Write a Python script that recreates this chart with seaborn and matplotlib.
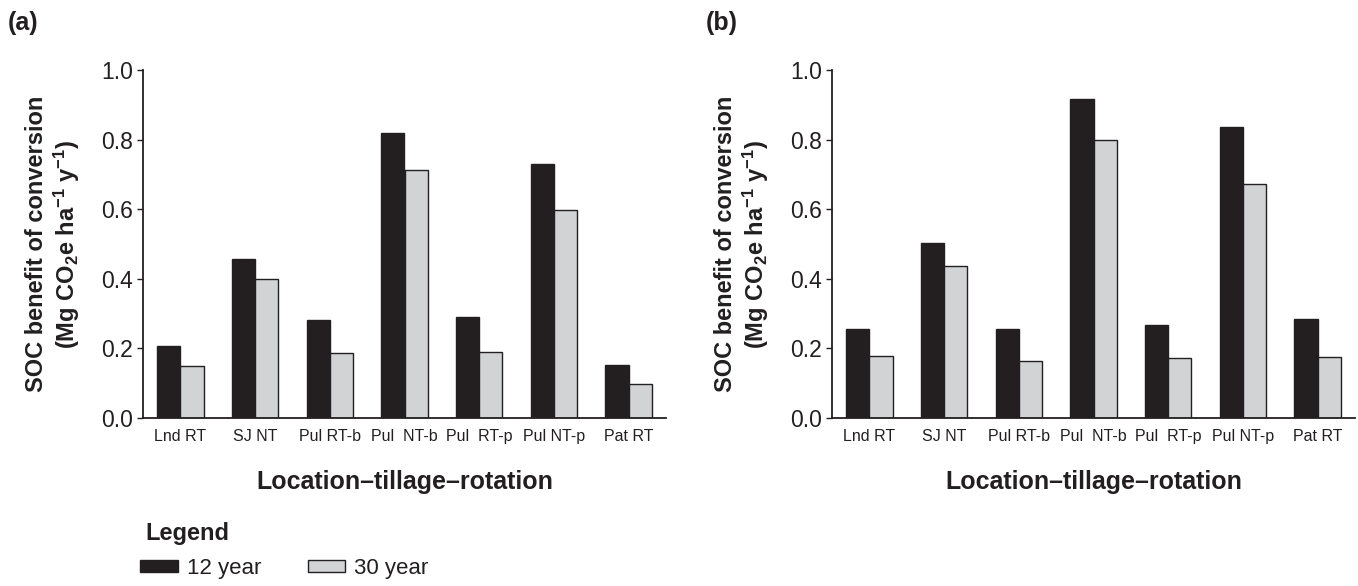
import matplotlib
matplotlib.use("Agg")
import matplotlib.pyplot as plt
import seaborn as sns
import pandas as pd
from matplotlib.patches import Patch

# ---- data ----
categories = ["Lnd RT", "SJ NT", "Pul RT-b", "Pul  NT-b", "Pul  RT-p", "Pul NT-p", "Pat RT"]
periods = ["12 year", "30 year"]
a_12 = [0.207, 0.457, 0.282, 0.820, 0.290, 0.730, 0.153]
a_30 = [0.149, 0.399, 0.186, 0.713, 0.189, 0.597, 0.097]
b_12 = [0.255, 0.503, 0.255, 0.916, 0.266, 0.836, 0.284]
b_30 = [0.178, 0.438, 0.163, 0.800, 0.171, 0.672, 0.174]
yticks = [0.0, 0.2, 0.4, 0.6, 0.8, 1.0]
panel_labels = ["(a)", "(b)"]

sns.set_style("white")
plt.rcParams["font.family"] = ["Liberation Sans", "DejaVu Sans"]
plt.rcParams["mathtext.fontset"] = "custom"
plt.rcParams["mathtext.rm"] = "Liberation Sans:bold"
plt.rcParams["mathtext.default"] = "rm"

DARK = "#231f20"
GRAY = "#d1d3d4"
palette = {periods[0]: DARK, periods[1]: GRAY}


def make_df(v12, v30):
    rows = []
    for c, a, b in zip(categories, v12, v30):
        rows.append((c, periods[0], a))
        rows.append((c, periods[1], b))
    return pd.DataFrame(rows, columns=["cat", "period", "value"])


W, H = 1358, 586
fig = plt.figure(figsize=(W / 100, H / 100), dpi=100)
ax_a = fig.add_axes([143 / W, 1 - 418 / H, 523 / W, 348 / H])
ax_b = fig.add_axes([832 / W, 1 - 418 / H, 523 / W, 348 / H])

for ax, v12, v30, lab, lx in [(ax_a, a_12, a_30, panel_labels[0], 8),
                              (ax_b, b_12, b_30, panel_labels[1], 706)]:
    df = make_df(v12, v30)
    sns.barplot(data=df, x="cat", y="value", hue="period", order=categories,
                hue_order=periods, palette=palette, width=0.62, gap=0,
                edgecolor=DARK, linewidth=1.0, saturation=1, legend=False, ax=ax)
    ax.set_xlim(-0.5, len(categories) - 0.5)
    ax.set_ylim(0, 1.0)
    ax.set_yticks(yticks)
    ax.set_yticklabels([f"{t:.1f}" for t in yticks], fontsize=16.5, color=DARK)
    ax.tick_params(axis="y", direction="out", length=4, width=1, color=DARK, pad=3, left=True)
    ax.tick_params(axis="x", length=0, pad=8)
    for t in ax.get_xticklabels():
        t.set_fontsize(11.5)
        t.set_color(DARK)
    for s in ["top", "right"]:
        ax.spines[s].set_visible(False)
    for s in ["left", "bottom"]:
        ax.spines[s].set_color(DARK)
        ax.spines[s].set_linewidth(1.3)
    ax.set_xlabel("Location\u2013tillage\u2013rotation", fontsize=18, fontweight="bold",
                  color=DARK, labelpad=19)
    ax.set_ylabel("SOC benefit of conversion\n(Mg CO$_2$e ha$^{\u22121}$ y$^{\u22121}$)",
                  fontsize=17, fontweight="bold", color=DARK, labelpad=14, linespacing=1.15)
    fig.text(lx / W, 1 - 30 / H, lab, fontsize=18, fontweight="bold", color=DARK,
             ha="left", va="baseline")

fig.text(145 / W, 1 - 540 / H, "Legend", fontsize=17, fontweight="bold", color=DARK,
         ha="left", va="baseline")
handles = [Patch(facecolor=DARK, edgecolor=DARK, linewidth=1.0, label=periods[0]),
           Patch(facecolor=GRAY, edgecolor=DARK, linewidth=1.0, label=periods[1])]
fig.legend(handles=handles, loc="upper left", bbox_to_anchor=(140 / W, 1 - 558 / H),
           ncol=2, frameon=False, fontsize=16, handlelength=1.7, handleheight=0.5,
           handletextpad=0.4, columnspacing=2.1, borderpad=0, borderaxespad=0,
           labelcolor=DARK)

fig.savefig("out.png", dpi=100)
